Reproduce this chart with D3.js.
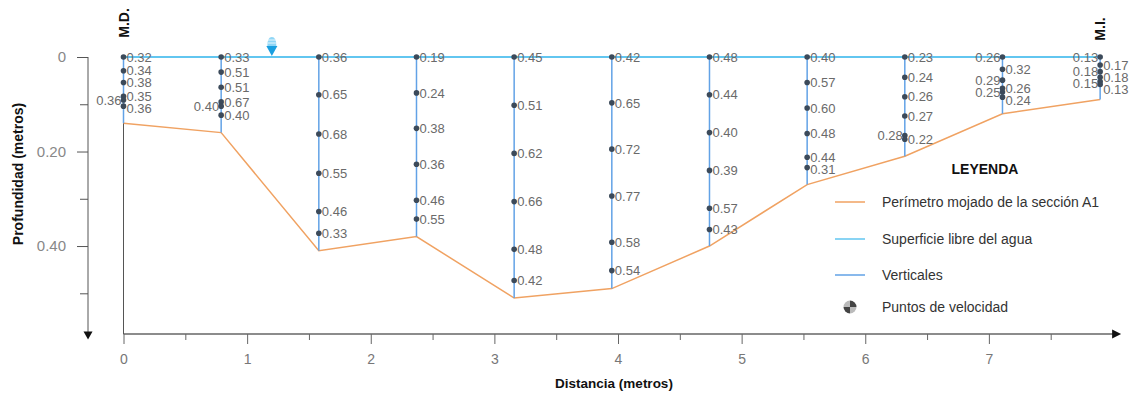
<!DOCTYPE html>
<html>
<head>
<meta charset="utf-8">
<script src="https://cdn.jsdelivr.net/npm/d3@7"></script>
<style>
    body { margin: 0; background: #fff; }
    svg { display: block; font-family: "Liberation Sans", Arial, sans-serif; }
</style>
</head>
<body>
<div id="chart"></div>
<script>
//size of the picture
const width = 1137;
const height = 396;

//distance of each vertical from the right bank (metros)
const distances = [0, 0.79, 1.58, 2.37, 3.16, 3.95, 4.74, 5.53, 6.32, 7.11, 7.90];
//bed depth at each vertical (metros)
const bedDepth = [0.14, 0.16, 0.41, 0.38, 0.51, 0.49, 0.40, 0.27, 0.21, 0.12, 0.09];

//depth of every velocity point, one list per vertical
const pointDepths = [
    [0, 0.029, 0.054, 0.083, 0.091, 0.104],
    [0, 0.032, 0.064, 0.095, 0.104, 0.123],
    [0, 0.080, 0.163, 0.246, 0.327, 0.373],
    [0, 0.076, 0.151, 0.227, 0.303, 0.343],
    [0, 0.102, 0.204, 0.306, 0.407, 0.473],
    [0, 0.097, 0.195, 0.294, 0.392, 0.452],
    [0, 0.080, 0.160, 0.240, 0.320, 0.365],
    [0, 0.054, 0.108, 0.162, 0.212, 0.234],
    [0, 0.043, 0.084, 0.125, 0.166, 0.174],
    [0, 0.026, 0.049, 0.066, 0.074, 0.085],
    [0, 0.017, 0.031, 0.043, 0.052, 0.058]
];
//velocity read at each point (m/s)
const velocities = [
    [0.32, 0.34, 0.38, 0.35, 0.36, 0.36],
    [0.33, 0.51, 0.51, 0.67, 0.40, 0.40],
    [0.36, 0.65, 0.68, 0.55, 0.46, 0.33],
    [0.19, 0.24, 0.38, 0.36, 0.46, 0.55],
    [0.45, 0.51, 0.62, 0.66, 0.48, 0.42],
    [0.42, 0.65, 0.72, 0.77, 0.58, 0.54],
    [0.48, 0.44, 0.40, 0.39, 0.57, 0.43],
    [0.40, 0.57, 0.60, 0.48, 0.44, 0.31],
    [0.23, 0.24, 0.26, 0.27, 0.28, 0.22],
    [0.26, 0.32, 0.29, 0.26, 0.25, 0.24],
    [0.13, 0.17, 0.18, 0.18, 0.15, 0.13]
];
//which side of the vertical each label sits on (L / R)
const labelSides = ["RRRRLR", "RRRRLR", "RRRRRR", "RRRRRR", "RRRRRR", "RRRRRR",
    "RRRRRR", "RRRRRR", "RRRRLR", "LRLRLR", "LRLRLR"];

//axis ticks
const xTicks = [0, 0.5, 1, 1.5, 2, 2.5, 3, 3.5, 4, 4.5, 5, 5.5, 6, 6.5, 7, 7.5];
const yTicks = [0, 0.1, 0.2, 0.3, 0.4, 0.5];
const yTickLabels = { 0: "0", 0.2: "0.20", 0.4: "0.40" };

//legend entries
const legendItems = ["Perímetro mojado de la sección A1", "Superficie libre del agua", "Verticales", "Puntos de velocidad"];

//where the water level sign sits (metros)
const waterMarkDist = 1.2;

//colors
const bedColor = "#f0a262";
const surfaceColor = "#62c6f0";
const verticalColor = "#62a2e6";
const pointColor = "#3c4a5a";

const x = d3.scaleLinear().domain([0, 8]).range([123.5, 1112.5]);
const y = d3.scaleLinear().domain([0, 0.5]).range([57, 293.3]);

const svg = d3.select("#chart")
    .append("svg")
    .attr("width", width)
    .attr("height", height);

//x axis
const xAxis = svg.append("g")
    .attr("transform", "translate(0," + 334 + ")")
    .call(d3.axisBottom(x)
        .tickValues(xTicks)
        .tickSizeOuter(0)
        .tickPadding(14)
        .tickFormat(function (d) { return Number.isInteger(d) ? d : ""; }));
xAxis.select(".domain").remove();
xAxis.selectAll(".tick line")
    .attr("stroke", "#666")
    .attr("y2", function (d) { return Number.isInteger(d) ? 10 : 6; });
xAxis.selectAll(".tick text")
    .attr("fill", "#777")
    .style("font-size", "14px");

svg.append("line")
    .attr("x1", x(0))
    .attr("x2", x(8.03))
    .attr("y1", 334)
    .attr("y2", 334)
    .attr("stroke", "#666")
    .attr("stroke-width", 1.5);
svg.append("path")
    .attr("d", "M" + x(8.07) + ",334 l-9,-4.5 l0,9 z")
    .attr("fill", "#111");

//y axis
const yAxis = svg.append("g")
    .attr("transform", "translate(88,0)")
    .call(d3.axisLeft(y)
        .tickValues(yTicks)
        .tickSizeOuter(0)
        .tickPadding(16)
        .tickFormat(function (d) { return yTickLabels[d] || ""; }));
yAxis.select(".domain").remove();
yAxis.selectAll(".tick line")
    .attr("stroke", "#555")
    .attr("x2", function (d) { return yTickLabels[d] ? -11 : -8; });
yAxis.selectAll(".tick text")
    .attr("fill", "#888")
    .style("font-size", "15px");

svg.append("line")
    .attr("x1", 88)
    .attr("x2", 88)
    .attr("y1", y(0))
    .attr("y2", y(0.585))
    .attr("stroke", "#555")
    .attr("stroke-width", 1);
svg.append("path")
    .attr("d", "M88," + y(0.598) + " l-4.5,-8 l9,0 z")
    .attr("fill", "#111");

//gray reference line at the right bank
svg.append("line")
    .attr("x1", x(0))
    .attr("x2", x(0))
    .attr("y1", y(0))
    .attr("y2", 334)
    .attr("stroke", "#555")
    .attr("stroke-width", 1);

//axis titles
svg.append("text")
    .attr("x", 614)
    .attr("y", 388)
    .attr("text-anchor", "middle")
    .style("font-weight", "bold")
    .style("font-size", "13.5px")
    .attr("fill", "#111")
    .text("Distancia (metros)");

svg.append("text")
    .attr("transform", "translate(23,174) rotate(-90)")
    .attr("text-anchor", "middle")
    .style("font-weight", "bold")
    .style("font-size", "14px")
    .attr("fill", "#111")
    .text("Profundidad (metros)");

//bank names
svg.append("text")
    .attr("transform", "translate(" + (x(0) + 5) + ",23) rotate(-90)")
    .attr("text-anchor", "middle")
    .style("font-weight", "bold")
    .style("font-size", "14px")
    .attr("fill", "#111")
    .text("M.D.");

svg.append("text")
    .attr("transform", "translate(" + (x(7.9) + 5) + ",29) rotate(-90)")
    .attr("text-anchor", "middle")
    .style("font-weight", "bold")
    .style("font-size", "14px")
    .attr("fill", "#111")
    .text("M.I.");

//bed profile
const bedPoints = distances.map(function (d, i) { return [x(d), y(bedDepth[i])]; });
svg.append("path")
    .attr("d", d3.line()(bedPoints))
    .attr("fill", "none")
    .attr("stroke", bedColor)
    .attr("stroke-width", 1.5);

//verticals
svg.selectAll(".vertical")
    .data(distances)
    .enter()
    .append("line")
    .attr("class", "vertical")
    .attr("x1", function (d) { return x(d); })
    .attr("x2", function (d) { return x(d); })
    .attr("y1", y(0))
    .attr("y2", function (d, i) { return y(bedDepth[i]); })
    .attr("stroke", verticalColor)
    .attr("stroke-width", 1.5);

//free water surface
svg.append("line")
    .attr("x1", x(0))
    .attr("x2", x(7.9))
    .attr("y1", y(0))
    .attr("y2", y(0))
    .attr("stroke", surfaceColor)
    .attr("stroke-width", 2);

//water level sign
const wx = x(waterMarkDist);
const wy = y(0);
svg.append("path")
    .attr("d", "M" + (wx - 4.5) + "," + (wy - 11) + " q0,-9 4.5,-9 q4.5,0 4.5,9 z")
    .attr("fill", "#8fd6f6");
svg.append("path")
    .attr("d", "M" + (wx - 5.5) + "," + (wy - 11) + " l11,0 l-5.5,10 z")
    .attr("fill", "#1a9fe0");
[-17, -14].forEach(function (o) {
    svg.append("line")
        .attr("x1", wx - 4).attr("x2", wx + 4)
        .attr("y1", wy + o).attr("y2", wy + o)
        .attr("stroke", "#fff").attr("stroke-width", 0.8);
});

//flatten velocity points
const points = [];
distances.forEach(function (dist, i) {
    pointDepths[i].forEach(function (depth, j) {
        points.push({ dist: dist, depth: depth, v: velocities[i][j], side: labelSides[i][j], vert: i });
    });
});

//label y positions, pushed apart so they dont overlap on the same side
points.forEach(function (p) { p.ly = y(p.depth); });
distances.forEach(function (dist, i) {
    ["L", "R"].forEach(function (side) {
        const group = points.filter(function (p) { return p.vert === i && p.side === side; });
        for (let k = 1; k < group.length; k++) {
            if (group[k].ly - group[k - 1].ly < 12) {
                group[k].ly = group[k - 1].ly + 12;
            }
        }
    });
});

svg.selectAll(".vel-label")
    .data(points)
    .enter()
    .append("text")
    .attr("class", "vel-label")
    .attr("x", function (d) { return d.side === "R" ? x(d.dist) + 3 : x(d.dist) - 2; })
    .attr("y", function (d) { return d.ly; })
    .attr("dy", "0.36em")
    .attr("text-anchor", function (d) { return d.side === "R" ? "start" : "end"; })
    .attr("fill", "#6a6a6a")
    .style("font-size", "13px")
    .text(function (d) { return d.v.toFixed(2); });

svg.selectAll(".vel-point")
    .data(points)
    .enter()
    .append("circle")
    .attr("class", "vel-point")
    .attr("cx", function (d) { return x(d.dist); })
    .attr("cy", function (d) { return y(d.depth); })
    .attr("r", 2.8)
    .attr("fill", pointColor);

//legend
const legend = svg.append("g").attr("transform", "translate(835,0)");

legend.append("text")
    .attr("x", 150)
    .attr("y", 174)
    .attr("text-anchor", "middle")
    .style("font-weight", "bold")
    .style("font-size", "14px")
    .attr("fill", "#111")
    .text("LEYENDA");

const legendY = [202, 239, 275, 307];
const legendColors = [bedColor, surfaceColor, verticalColor];

legendColors.forEach(function (c, i) {
    legend.append("line")
        .attr("x1", 0)
        .attr("x2", 30)
        .attr("y1", legendY[i])
        .attr("y2", legendY[i])
        .attr("stroke", c)
        .attr("stroke-width", 1.5);
});

//velocity point symbol, quartered circle
const arc = d3.arc().innerRadius(0).outerRadius(6.5);
[0, 1, 2, 3].forEach(function (q) {
    legend.append("path")
        .attr("transform", "translate(15," + legendY[3] + ")")
        .attr("d", arc({ startAngle: q * Math.PI / 2, endAngle: (q + 1) * Math.PI / 2 }))
        .attr("fill", q % 2 === 0 ? "#444" : "#bbb");
});

legend.selectAll(".legend-text")
    .data(legendItems)
    .enter()
    .append("text")
    .attr("class", "legend-text")
    .attr("x", 47)
    .attr("y", function (d, i) { return legendY[i]; })
    .attr("dy", "0.35em")
    .attr("fill", "#333")
    .style("font-size", "14px")
    .text(function (d) { return d; });
</script>
</body>
</html>
